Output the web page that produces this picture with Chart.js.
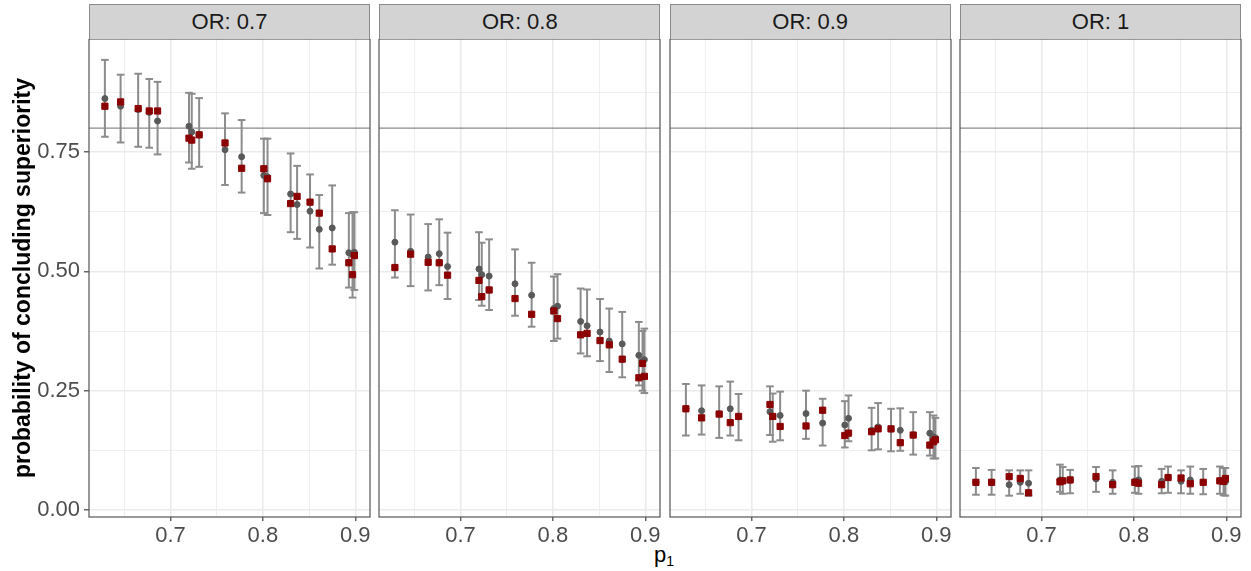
<!DOCTYPE html>
<html>
<head>
<meta charset="utf-8">
<script src="https://cdn.jsdelivr.net/npm/chart.js@4.4.0/dist/chart.umd.min.js"></script>
<style>
  body { margin: 0; background: #fff; width: 1251px; height: 571px; overflow: hidden; position: relative;
         font-family: "Liberation Sans", Arial, sans-serif; }
  .strip { position: absolute; top: 4px; height: 35px; box-sizing: border-box; background: #d3d3d3;
           border: 1px solid #8a8a8a; border-bottom: none; text-align: center; font-size: 22px;
           line-height: 34px; color: #1a1a1a; }
  canvas { position: absolute; top: 39px; }
  #xtitle { position: absolute; left: 614px; width: 100px; top: 542px; text-align: center;
            font-size: 22px; line-height: 26px; color: #000; }
  #xtitle span { font-size: 14px; position: relative; top: 4px; }
</style>
</head>
<body>
<div id="xtitle">p<span>1</span></div>
<script>
// facets and x positions (p1)
const orLabels = ['OR: 0.7', 'OR: 0.8', 'OR: 0.9', 'OR: 1'];
const pValues = [0.629, 0.646, 0.665, 0.677, 0.686, 0.720, 0.723, 0.731, 0.759, 0.777,
                 0.801, 0.805, 0.830, 0.837, 0.851, 0.861, 0.875, 0.893, 0.897, 0.899];
const targetPower = 0.8;

// axis ticks
const xMajor = [0.7, 0.8, 0.9];
const xMinor = [0.65, 0.75, 0.85];
const yMajor = [0, 0.25, 0.5, 0.75];
const yMinor = [0.125, 0.375, 0.625, 0.875];
const xMin = 0.6118, xMax = 0.9159;
const yMin = -0.0147, yMax = 0.9868;

// OR 0.7
const gray07 = [0.862, 0.846, 0.839, 0.833, 0.815, 0.804, 0.792, 0.786, 0.755, 0.740,
                0.701, 0.698, 0.662, 0.640, 0.626, 0.588, 0.591, 0.539, 0.535, 0.540];
const red07  = [0.846, 0.855, 0.841, 0.836, 0.836, 0.779, 0.775, 0.786, 0.769, 0.716,
                0.715, 0.694, 0.642, 0.657, 0.645, 0.622, 0.547, 0.518, 0.493, 0.533];
const low07  = [0.782, 0.770, 0.761, 0.759, 0.745, 0.728, 0.715, 0.719, 0.681, 0.665,
                0.622, 0.618, 0.582, 0.568, 0.550, 0.506, 0.514, 0.466, 0.445, 0.461];
const high07 = [0.943, 0.912, 0.914, 0.903, 0.897, 0.874, 0.872, 0.863, 0.831, 0.817,
                0.778, 0.778, 0.747, 0.721, 0.703, 0.660, 0.680, 0.622, 0.624, 0.624];

// OR 0.8
const gray08 = [0.561, 0.542, 0.530, 0.537, 0.510, 0.505, 0.493, 0.490, 0.474, 0.450,
                0.422, 0.427, 0.395, 0.386, 0.373, 0.354, 0.348, 0.324, 0.312, 0.315];
const red08  = [0.508, 0.536, 0.519, 0.518, 0.492, 0.481, 0.447, 0.461, 0.443, 0.410,
                0.417, 0.401, 0.367, 0.370, 0.355, 0.346, 0.316, 0.277, 0.307, 0.280];
const low08  = [0.487, 0.469, 0.460, 0.471, 0.442, 0.440, 0.428, 0.419, 0.407, 0.384,
                0.354, 0.359, 0.328, 0.322, 0.312, 0.289, 0.278, 0.261, 0.250, 0.245];
const high08 = [0.628, 0.619, 0.599, 0.609, 0.581, 0.582, 0.560, 0.567, 0.546, 0.518,
                0.489, 0.494, 0.464, 0.462, 0.442, 0.422, 0.415, 0.394, 0.375, 0.380];

// OR 0.9
const gray09 = [0.212, 0.208, 0.201, 0.212, 0.196, 0.206, 0.196, 0.198, 0.202, 0.182,
                0.178, 0.192, 0.167, 0.174, 0.169, 0.167, 0.157, 0.161, 0.153, 0.151];
const red09  = [0.212, 0.193, 0.201, 0.183, 0.196, 0.221, 0.196, 0.175, 0.176, 0.209,
                0.156, 0.161, 0.164, 0.170, 0.170, 0.141, 0.157, 0.136, 0.143, 0.147];
const low09  = [0.156, 0.158, 0.151, 0.156, 0.146, 0.157, 0.143, 0.146, 0.149, 0.135,
                0.131, 0.144, 0.125, 0.127, 0.123, 0.124, 0.116, 0.114, 0.108, 0.108];
const high09 = [0.264, 0.261, 0.259, 0.269, 0.243, 0.259, 0.244, 0.248, 0.250, 0.233,
                0.228, 0.240, 0.214, 0.224, 0.212, 0.213, 0.205, 0.205, 0.198, 0.193];

// OR 1
const gray10 = [0.058, 0.058, 0.053, 0.058, 0.056, 0.063, 0.062, 0.062, 0.065, 0.058,
                0.060, 0.063, 0.060, 0.068, 0.060, 0.063, 0.058, 0.061, 0.059, 0.059];
const red10  = [0.058, 0.058, 0.070, 0.066, 0.036, 0.059, 0.061, 0.063, 0.070, 0.053,
                0.058, 0.056, 0.053, 0.068, 0.067, 0.055, 0.058, 0.061, 0.060, 0.066];
const low10  = [0.032, 0.032, 0.030, 0.034, 0.030, 0.038, 0.034, 0.035, 0.038, 0.034,
                0.036, 0.034, 0.035, 0.036, 0.035, 0.034, 0.033, 0.034, 0.031, 0.030];
const high10 = [0.088, 0.084, 0.083, 0.083, 0.083, 0.095, 0.090, 0.084, 0.090, 0.083,
                0.091, 0.092, 0.086, 0.091, 0.083, 0.091, 0.086, 0.091, 0.088, 0.088];

const panels = [
    [gray07, red07, low07, high07],
    [gray08, red08, low08, high08],
    [gray09, red09, low09, high09],
    [gray10, red10, low10, high10]
];

// panel geometry
const panelLeft = [89, 379.3, 669.7, 960];
const panelWidth = 281;
const panelHeight = 478;
const axisBottom = 54;
const barColor = '#8c8c8c';

// panel border drawn on top
const borderPlugin = {
    id: 'panelBorder',
    afterDatasetsDraw(chart) {
        const a = chart.chartArea;
        const ctx = chart.ctx;
        ctx.save();
        ctx.strokeStyle = '#555555';
        ctx.lineWidth = 1.2;
        ctx.strokeRect(a.left, a.top, a.right - a.left, a.bottom - a.top);
        ctx.restore();
    }
};

function isMinor(ctx) {
    return ctx.tick && ctx.tick.minor;
}

function makePanel(i) {
    const [gray, red, low, high] = panels[i];
    const yW = i === 0 ? 89 : 3;

    const strip = document.createElement('div');
    strip.className = 'strip';
    strip.style.left = panelLeft[i] + 'px';
    strip.style.width = panelWidth + 'px';
    strip.textContent = orLabels[i];
    document.body.appendChild(strip);

    const canvas = document.createElement('canvas');
    canvas.width = yW + panelWidth + 3;
    canvas.height = panelHeight + axisBottom;
    canvas.style.left = (panelLeft[i] - yW) + 'px';
    document.body.appendChild(canvas);

    const stems = [];
    const caps = [];
    pValues.forEach((p, j) => {
        stems.push({x: p, y: low[j]}, {x: p, y: high[j]}, {x: p, y: null});
        caps.push({x: p, y: low[j]}, {x: p, y: high[j]});
    });

    new Chart(canvas.getContext('2d'), {
        type: 'scatter',
        data: {
            datasets: [
                {
                    data: pValues.map((p, j) => ({x: p, y: red[j]})),
                    pointStyle: 'rect', pointRadius: 4.4, borderWidth: 1,
                    backgroundColor: '#8b0000', borderColor: '#8b0000', order: 0
                },
                {
                    data: pValues.map((p, j) => ({x: p, y: gray[j]})),
                    pointStyle: 'circle', pointRadius: 3, borderWidth: 1,
                    backgroundColor: '#595959', borderColor: '#595959', order: 1
                },
                {
                    data: stems, showLine: true, spanGaps: false, pointRadius: 0,
                    borderColor: barColor, borderWidth: 2, order: 2
                },
                {
                    data: caps, pointStyle: 'line', pointRadius: 3.8, borderWidth: 2,
                    borderColor: barColor, order: 2
                },
                {
                    data: [{x: xMin, y: targetPower}, {x: xMax, y: targetPower}],
                    showLine: true, pointRadius: 0, borderColor: '#8a8a8a', borderWidth: 1.3, order: 3
                }
            ]
        },
        options: {
            responsive: false,
            animation: false,
            layout: { autoPadding: false, padding: { left: 0, right: 3, top: 0, bottom: 0 } },
            plugins: { legend: { display: false }, tooltip: { enabled: false } },
            scales: {
                x: {
                    type: 'linear', min: xMin, max: xMax,
                    afterBuildTicks: s => {
                        s.ticks = xMajor.map(v => ({value: v}))
                            .concat(xMinor.map(v => ({value: v, minor: true})));
                    },
                    afterFit: s => {
                        s.height = axisBottom;
                        s.paddingLeft = 0;
                        s.paddingRight = 0;
                    },
                    ticks: {
                        autoSkip: false, maxRotation: 0, padding: 2,
                        color: '#4d4d4d',
                        font: { family: '"Liberation Sans", Arial, sans-serif', size: 22 },
                        callback: v => xMajor.includes(v) ? v.toFixed(1) : ''
                    },
                    grid: {
                        color: '#ebebeb',
                        lineWidth: c => isMinor(c) ? 0.8 : 1.6,
                        tickLength: 4,
                        tickColor: c => isMinor(c) ? 'rgba(0,0,0,0)' : '#333333',
                        tickWidth: 1.1
                    },
                    border: { display: false }
                },
                y: {
                    type: 'linear', min: yMin, max: yMax,
                    afterBuildTicks: s => {
                        s.ticks = yMajor.map(v => ({value: v}))
                            .concat(yMinor.map(v => ({value: v, minor: true})));
                    },
                    afterFit: s => {
                        s.width = yW;
                        s.paddingTop = 0;
                        s.paddingBottom = 0;
                    },
                    ticks: {
                        display: i === 0, padding: 4,
                        color: '#4d4d4d',
                        font: { family: '"Liberation Sans", Arial, sans-serif', size: 22 },
                        callback: v => yMajor.includes(v) ? v.toFixed(2) : ''
                    },
                    grid: {
                        color: '#ebebeb',
                        lineWidth: c => isMinor(c) ? 0.8 : 1.6,
                        drawTicks: i === 0,
                        tickLength: 5,
                        tickColor: c => isMinor(c) ? 'rgba(0,0,0,0)' : '#333333',
                        tickWidth: 1.1
                    },
                    border: { display: false },
                    title: {
                        display: i === 0,
                        text: 'probability of concluding superiority',
                        color: '#000',
                        font: { family: '"Liberation Sans", Arial, sans-serif', size: 23, weight: 'bold' },
                        padding: { top: 10, bottom: 0 }
                    }
                }
            }
        },
        plugins: [borderPlugin]
    });
}

for (let i = 0; i < panels.length; i++) makePanel(i);
</script>
</body>
</html>
